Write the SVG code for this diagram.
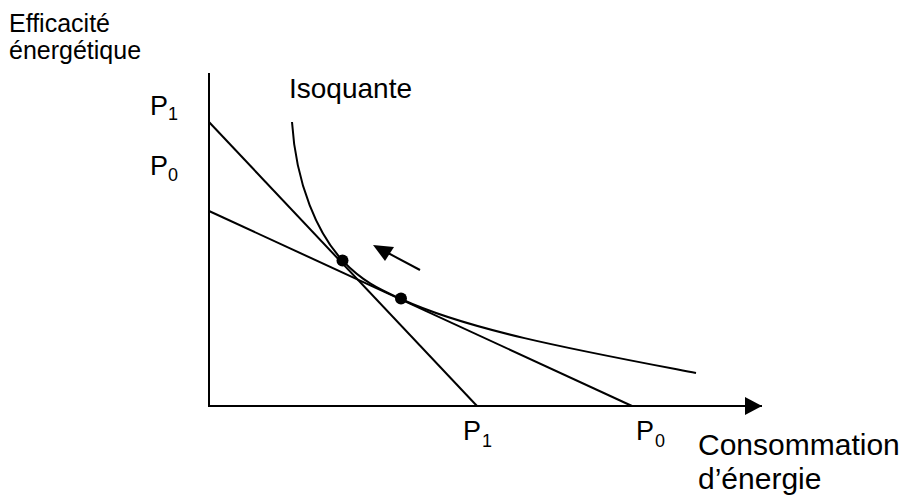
<svg xmlns="http://www.w3.org/2000/svg" width="915" height="501" viewBox="0 0 915 501">
<defs>
<style>
text{font-family:"Liberation Sans",Arial,sans-serif;fill:#000}
.ax{stroke:#000;stroke-width:2;fill:none}
.ln{stroke:#000;stroke-width:2;fill:none}
.lbl{font-size:25px}
.p{font-size:27px}
.sub{font-size:18px}
.big{font-size:30px}
</style>
<marker id="ah" markerUnits="userSpaceOnUse" markerWidth="20" markerHeight="20" refX="17" refY="9" orient="auto">
<path d="M0,0 L17,9 L0,18 Z" fill="#000"/>
</marker>
</defs>
<rect width="915" height="501" fill="#fff"/>
<g id="axes">
<line class="ax" x1="209" y1="73" x2="209" y2="407"/>
<line class="ax" x1="208" y1="406" x2="762" y2="406" marker-end="url(#ah)"/>
</g>
<g id="connectors">
<line id="budget-p1" class="ln" x1="209" y1="122" x2="477" y2="406"/>
<line id="budget-p0" class="ln" x1="209" y1="211" x2="632" y2="406"/>
<path id="isoquant" class="ln" d="M292,122 C296,185 318,234.5 343,261 C363,282.2 381,289.8 401,299 C471,331.3 586,352 696,373"/>
<line id="shift-arrow" class="ln" x1="420" y1="270" x2="388" y2="253"/>
<path d="M373,245 L394,247 L385,261 Z" fill="#000"/>
</g>
<g id="point-1"><circle cx="342.5" cy="260.5" r="6" fill="#000"/></g>
<g id="point-0"><circle cx="401" cy="298.5" r="6" fill="#000"/></g>
<g id="label-y">
<text class="lbl" x="9" y="32">Efficacité</text>
<text class="lbl" x="9" y="59">énergétique</text>
</g>
<g id="label-x">
<text class="big" x="698" y="455">Consommation</text>
<text class="big" x="698" y="489">d’énergie</text>
</g>
<g id="label-isoquante"><text x="289" y="98" style="font-size:28px">Isoquante</text></g>
<g id="label-y-p1"><text class="p" x="150" y="115">P</text><text class="sub" x="168" y="120">1</text></g>
<g id="label-y-p0"><text class="p" x="150" y="175">P</text><text class="sub" x="168" y="181">0</text></g>
<g id="label-x-p1"><text class="p" x="463" y="440">P</text><text class="sub" x="482" y="447">1</text></g>
<g id="label-x-p0"><text class="p" x="636" y="440">P</text><text class="sub" x="655" y="447">0</text></g>
</svg>
